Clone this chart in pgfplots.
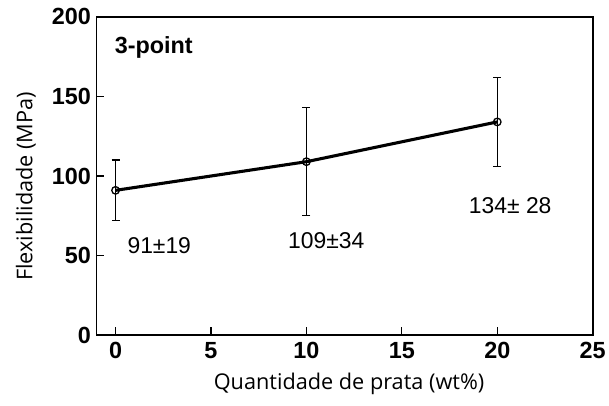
\documentclass[border=0pt]{standalone}
\usepackage{pgfplots}
\pgfplotsset{compat=1.18}
\usepackage{fontspec}
\setmainfont{Liberation Sans}
\newfontfamily\labelfont{Open Sans}
\begin{document}
\begin{tikzpicture}
\begin{axis}[
  scale only axis, width=499pt, height=320pt,
  xmin=-1, xmax=25, ymin=0, ymax=200,
  xtick={0,5,10,15,20,25}, ytick={0,50,100,150,200},
  tick align=inside, major tick length=8pt,
  xtick pos=bottom, ytick pos=left,
  axis line style={line width=1.7pt},
  every tick/.style={line width=1.3pt, black},
  /pgf/number format/assume math mode=true,
  ticklabel style={font=\fontsize{23.5}{23.5}\selectfont\bfseries},
  xticklabel style={yshift=-4pt},
  yticklabel style={xshift=-2pt},
  xlabel={Quantidade de prata (wt\%)},
  ylabel={Flexibilidade (MPa)},
  label style={font=\labelfont\fontsize{21.8}{21.8}\selectfont},
  xlabel style={at={(axis description cs:0.509,-0.153)}, anchor=center},
  ylabel style={at={(axis description cs:-0.1423,0.467)}, anchor=center, rotate=0},
  clip=false,
]
\addplot[black, line width=3.1pt, mark=o, mark size=3.8pt,
  mark options={line width=1.3pt, fill=white},
  error bars/.cd, y dir=both, y explicit,
  error bar style={line width=1.3pt},
  error mark options={rotate=90, mark size=4pt, line width=1.3pt}]
  coordinates {(0,91) +- (0,19) (10,109) +- (0,34) (20,134) +- (0,28)};
\node[font=\fontsize{23}{23}\selectfont] at (axis cs:2.29,56.3) {91±19};
\node[font=\fontsize{23}{23}\selectfont] at (axis cs:11.04,59.4) {109±34};
\node[font=\fontsize{23}{23}\selectfont] at (axis cs:20.68,81.3) {134± 28};
\node[font=\fontsize{23.5}{23.5}\selectfont\bfseries] at (axis cs:2.0,180.8) {3-point};
\end{axis}
\path (current axis.south west) ++(-97pt,-71pt) rectangle ++(609pt,408pt);
\end{tikzpicture}
\end{document}
